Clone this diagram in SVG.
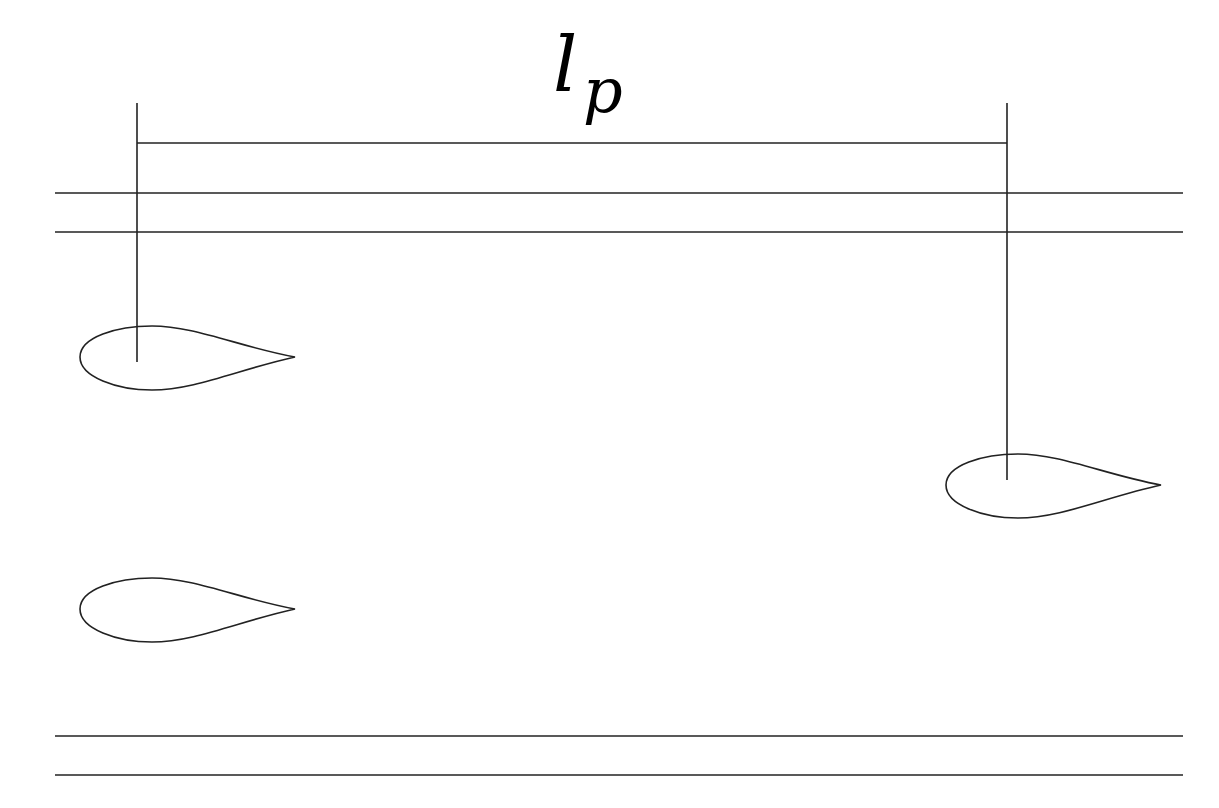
<svg xmlns="http://www.w3.org/2000/svg" width="1219" height="808" viewBox="0 0 1219 808">
<style>.l{stroke:#222;stroke-width:1.6;fill:none}.t{font-family:"DejaVu Serif",serif;font-style:italic;fill:#000}</style>
<defs><path id="foil" class="l" d="M0,0 C-55,-10 -100,-31 -143,-31 C-178,-31 -215,-20 -215,0 C-215,20 -178,33 -143,33 C-100,33 -55,12 0,0 Z"/></defs>
<rect width="1219" height="808" fill="#fff"/>
<g class="l">
<line x1="55" y1="193" x2="1183" y2="193"/><line x1="55" y1="232" x2="1183" y2="232"/>
<line x1="55" y1="736" x2="1183" y2="736"/><line x1="55" y1="775" x2="1183" y2="775"/>
<line x1="137" y1="103" x2="137" y2="362"/><line x1="1007" y1="103" x2="1007" y2="480"/>
<line x1="137" y1="143" x2="1007" y2="143"/>
</g>
<use href="#foil" x="295" y="357"/>
<use href="#foil" x="295" y="609"/>
<use href="#foil" x="1161" y="485"/>
<text class="t" x="553" y="91" font-size="76">l</text>
<text class="t" x="583" y="112" font-size="62">p</text>
</svg>
